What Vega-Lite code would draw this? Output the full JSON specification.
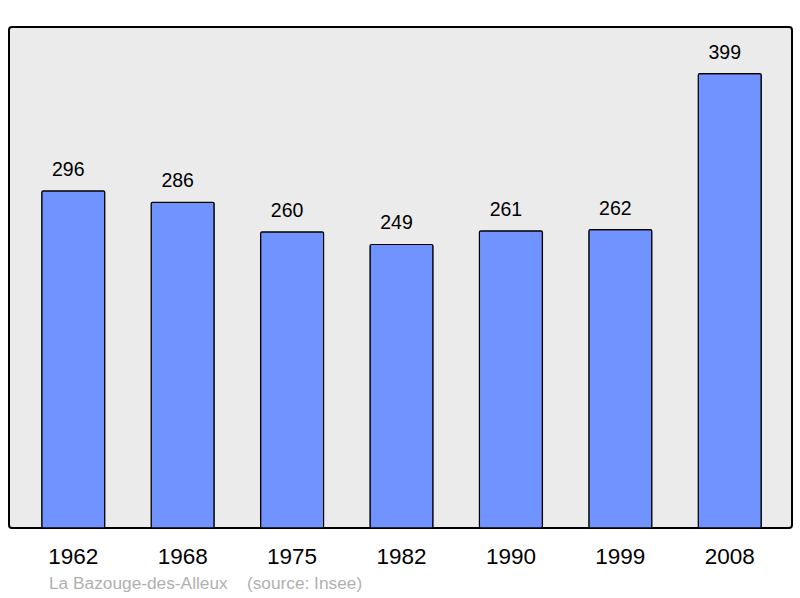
{
  "$schema": "https://vega.github.io/schema/vega-lite/v6.json",
  "width": 783,
  "height": 501,
  "autosize": {"type": "none"},
  "padding": {"left": 9, "top": 27, "right": 8, "bottom": 70},
  "background": "white",
  "config": {
    "view": {"fill": "#ebebeb", "stroke": "black", "strokeWidth": 2, "cornerRadius": 3},
    "font": "Liberation Sans"
  },
  "title": {
    "text": "La Bazouge-des-Alleux\u00a0\u00a0\u00a0\u00a0(source: Insee)",
    "orient": "bottom",
    "anchor": "start",
    "dx": 40,
    "offset": 7,
    "fontSize": 17.3,
    "fontWeight": "normal",
    "color": "#b0b0b0",
    "font": "Liberation Sans"
  },
  "data": {"values": [
    {"year": "1962", "pop": 296},
    {"year": "1968", "pop": 286},
    {"year": "1975", "pop": 260},
    {"year": "1982", "pop": 249},
    {"year": "1990", "pop": 261},
    {"year": "1999", "pop": 262},
    {"year": "2008", "pop": 399}
  ]},
  "encoding": {
    "x": {"field": "year", "type": "ordinal", "sort": null,
      "scale": {"paddingInner": 0.424, "paddingOuter": 0.29, "align": 0.516},
      "axis": {"title": null, "domain": false, "ticks": false, "labelAngle": 0, "labelFontSize": 22.5, "labelColor": "black", "labelPadding": 17, "labelFont": "Liberation Sans"}},
    "y": {"field": "pop", "type": "quantitative", "scale": {"domain": [0, 440], "nice": false}, "axis": null}
  },
  "layer": [
    {"mark": {"type": "bar", "fill": "#7093ff", "stroke": "black", "strokeWidth": 1.2, "cornerRadius": 1.5}},
    {"mark": {"type": "text", "dy": -15, "dx": -5, "baseline": "alphabetic", "fontSize": 19.5, "color": "black", "font": "Liberation Sans"},
      "encoding": {"text": {"field": "pop", "type": "quantitative"}}}
  ]
}
